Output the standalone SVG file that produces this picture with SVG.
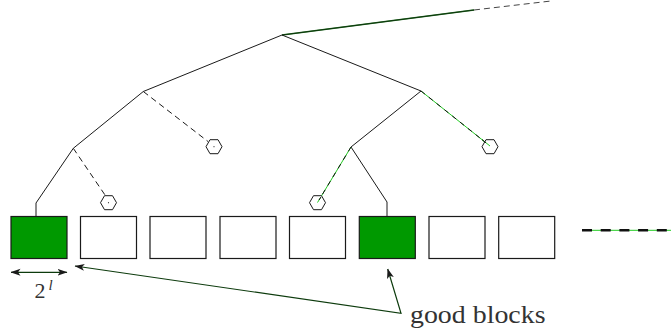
<svg xmlns="http://www.w3.org/2000/svg" width="671" height="331" viewBox="0 0 671 331">
<defs>
<marker id="ah" viewBox="0 0 10 8" refX="9.5" refY="4" markerWidth="10" markerHeight="8" markerUnits="userSpaceOnUse" orient="auto-start-reverse">
<path d="M0,0.5 L10,4 L0,7.5 L2.5,4 Z" fill="#1a1a1a"/>
</marker>
<polygon id="hex" points="-8,0 -4,-7 4,-7 8,0 4,7 -4,7" fill="#fff" stroke="#1a1a1a" stroke-width="1"/>
</defs>
<style>
.edge{fill:none;stroke:#1a1a1a;stroke-width:1}
.dash{fill:none;stroke:#1a1a1a;stroke-width:1;stroke-dasharray:6 4}
.gl{fill:none;stroke:#22cc22;stroke-width:1}
.gd{fill:none;stroke:#111;stroke-width:1;stroke-dasharray:5 5}
.box{fill:#fff;stroke:#1a1a1a;stroke-width:1.2}
.good{fill:#009900;stroke:#1a1a1a;stroke-width:1.2}
.arr{fill:none;stroke:#0d3b0d;stroke-width:1.2}
.lbl{fill:#333}
</style>
<g id="connectors">
<line x1="282" y1="35" x2="474" y2="10" stroke="#1c6a1c" stroke-width="1.6"/>
<line x1="282" y1="35" x2="474" y2="10" stroke="#0a2a0a" stroke-width="0.8"/>
<line x1="474" y1="10" x2="551" y2="1" stroke="#444" stroke-width="1" stroke-dasharray="6 4"/>
<polyline class="edge" points="143.3,91.5 282,35 421,91"/>
<line class="edge" x1="143.3" y1="91.5" x2="73.3" y2="148.3"/>
<polyline class="edge" points="73.3,148.3 36,203 36,216.5"/>
<line class="dash" x1="143.3" y1="91.5" x2="208" y2="141.5"/>
<line class="dash" x1="73.3" y1="148.3" x2="105" y2="195"/>
<line class="edge" x1="421" y1="91" x2="351" y2="147"/>
<polyline class="edge" points="351,147 387,202 387,216.5"/>
<line class="gl" x1="421" y1="91" x2="490" y2="146"/>
<line class="gd" x1="421" y1="91" x2="490" y2="146"/>
<line class="gl" x1="351" y1="147" x2="317.5" y2="202.5"/>
<line class="gd" x1="351" y1="147" x2="317.5" y2="202.5"/>
<line x1="582" y1="230.3" x2="671" y2="230.3" stroke="#22cc22" stroke-width="1"/>
<line x1="582" y1="230.3" x2="671" y2="230.3" stroke="#111" stroke-width="2.6" stroke-dasharray="10 8.7"/>
<line class="arr" x1="11" y1="272.3" x2="67" y2="272.3" marker-start="url(#ah)" marker-end="url(#ah)"/>
<polyline class="arr" points="75,266 401,313.3 387.7,269" marker-start="url(#ah)" marker-end="url(#ah)"/>
</g>
<g id="hex1"><use href="#hex" x="108.5" y="202.7"/><circle cx="108.5" cy="202.7" r="0.6" fill="#333"/></g>
<g id="hex2"><use href="#hex" x="214" y="146.7"/><circle cx="214" cy="146.7" r="0.6" fill="#333"/></g>
<g id="hex3"><use href="#hex" x="317.5" y="202.7"/><line class="gl" x1="320.5" y1="197.6" x2="317.5" y2="202.5"/><line x1="321" y1="197" x2="319" y2="200" stroke="#111" stroke-width="1"/></g>
<g id="hex4"><use href="#hex" x="490" y="146.7"/><line class="gl" x1="482" y1="139.6" x2="490" y2="146"/><line x1="482" y1="139.6" x2="486" y2="142.8" stroke="#111" stroke-width="1"/></g>
<g id="block1"><rect class="good" x="11" y="216.5" width="56" height="42"/></g>
<g id="block2"><rect class="box" x="80.5" y="216.5" width="56" height="42"/></g>
<g id="block3"><rect class="box" x="150" y="216.5" width="56" height="42"/></g>
<g id="block4"><rect class="box" x="220" y="216.5" width="56" height="42"/></g>
<g id="block5"><rect class="box" x="289.5" y="216.5" width="56" height="42"/></g>
<g id="block6"><rect class="good" x="359.3" y="216.5" width="56" height="42"/></g>
<g id="block7"><rect class="box" x="429" y="216.5" width="56" height="42"/></g>
<g id="block8"><rect class="box" x="498.7" y="216.5" width="56" height="42"/></g>
<g id="label-size"><text class="lbl" x="34.5" y="298.3" font-family="'Liberation Serif', 'DejaVu Serif', serif" font-size="22">2</text><text class="lbl" x="48.5" y="290" font-family="'Liberation Serif', 'DejaVu Serif', serif" font-size="15" font-style="italic">l</text></g>
<g id="label-good"><text class="lbl" x="410" y="323.3" font-family="'Liberation Serif', 'DejaVu Serif', serif" font-size="26" textLength="135.5" lengthAdjust="spacingAndGlyphs">good blocks</text></g>
</svg>
